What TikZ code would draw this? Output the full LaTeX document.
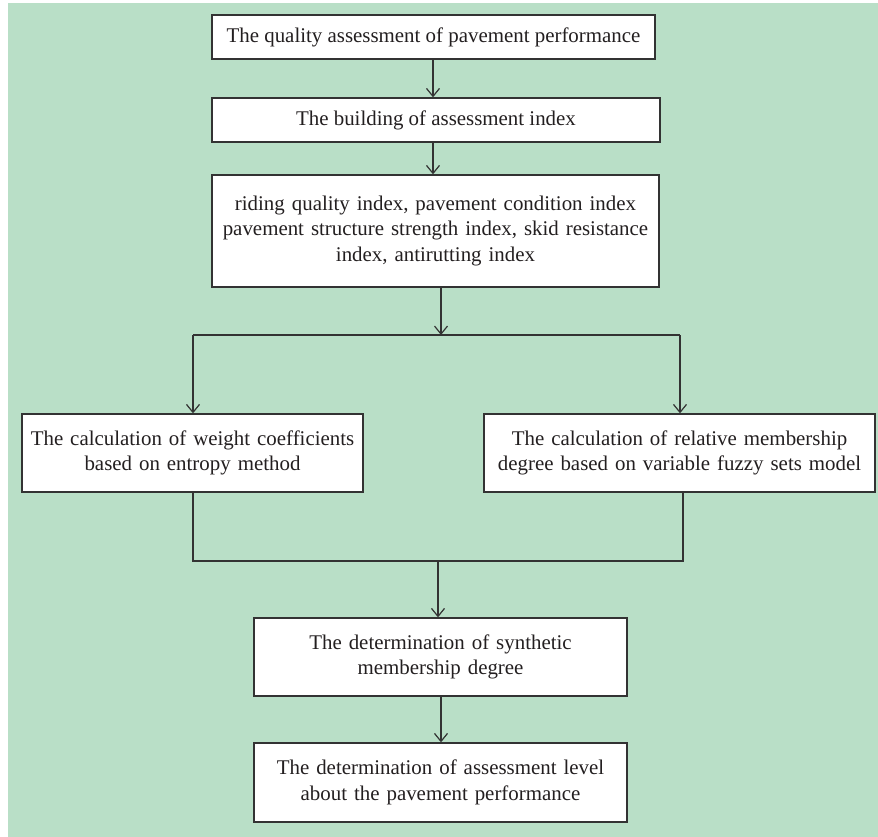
\documentclass[tikz,border=0pt]{standalone}
\usepackage{fontspec}
\setmainfont{Liberation Serif}
\usetikzlibrary{arrows.meta,calc}
\definecolor{bggreen}{HTML}{B9DFC7}
\definecolor{ink}{HTML}{231F20}
\definecolor{edge}{HTML}{333333}
\tikzset{
  box/.style={draw=edge, line width=1.3pt, fill=white, text=ink, align=center, inner sep=0pt,
    font=\fontsize{20.9}{25.5}\selectfont},
  arr/.style={draw=edge, line width=1.3pt, -{Straight Barb[length=8pt,width=13pt,line width=1.2pt]}},
  ln/.style={draw=edge, line width=1.3pt}
}
\begin{document}
\begin{tikzpicture}[x=1pt,y=-1pt]
\useasboundingbox (0,0) rectangle (878,837);
\fill[bggreen] (8,3) rectangle (878,837);
\node[box, minimum width=443pt, minimum height=44pt] (b1) at (433.5,37) {The quality assessment of pavement performance};
\node[box, minimum width=448pt, minimum height=44pt] (b2) at (436,120) {The building of assessment index};
\node[box, minimum width=447pt, minimum height=112pt, text width=440pt] (b3) at (435.5,231) {riding quality index, pavement condition index\\pavement structure strength index, skid resistance\\index, antirutting index};
\node[box, minimum width=341pt, minimum height=78pt, text width=335pt] (bl) at (192.5,453) {The calculation of weight coefficients\\based on entropy method};
\node[box, minimum width=391pt, minimum height=78pt, text width=385pt] (br) at (679.5,453) {The calculation of relative membership\\degree based on variable fuzzy sets model};
\node[box, minimum width=373pt, minimum height=78pt, text width=365pt] (b5) at (440.5,657) {The determination of synthetic\\membership degree};
\node[box, minimum width=373pt, minimum height=79pt, text width=365pt] (b6) at (440.5,782.5) {The determination of assessment level\\about the pavement performance};
\coordinate (split) at (441,335);
\coordinate (sl) at (193,335);
\coordinate (sr) at (680,335);
\coordinate (jl) at (193,561);
\coordinate (jr) at (683,561);
\coordinate (jc) at (438,561);
\draw[arr] (433,0 |- b1.south) -- (433,0 |- b2.north);
\draw[arr] (433,0 |- b2.south) -- (433,0 |- b3.north);
\draw[arr] (split |- b3.south) -- (split);
\draw[ln] (sl) -- (sr);
\draw[arr] (sl) -- (sl |- bl.north);
\draw[arr] (sr) -- (sr |- br.north);
\draw[ln] (jl |- bl.south) -- (jl) -- (jr) -- (jr |- br.south);
\draw[arr] (jc) -- (jc |- b5.north);
\draw[arr] (441,0 |- b5.south) -- (441,0 |- b6.north);
\end{tikzpicture}
\end{document}
